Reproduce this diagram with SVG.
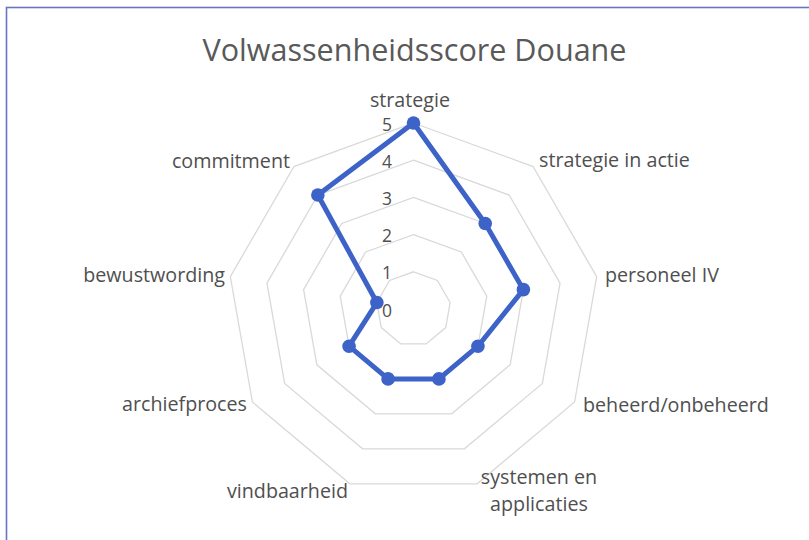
<svg xmlns="http://www.w3.org/2000/svg" width="809" height="540" viewBox="0 0 809 540">
  <style>
    .ring { fill: none; stroke: #d9d9d9; stroke-width: 1.3; }
    .title { font-family: "Open Sans", "Liberation Sans", sans-serif; font-size: 30.4px; font-weight: 400; fill: #595959; }
    .cat { font-family: "Open Sans", "Liberation Sans", sans-serif; font-size: 19.7px; fill: #4f4f4f; }
    .tick { font-family: "Open Sans", "Liberation Sans", sans-serif; font-size: 17.5px; fill: #4f4f4f; text-anchor: end; }
    .series { fill: none; stroke: #3d63c8; stroke-width: 5; stroke-linejoin: round; }
    .dot { fill: #3d63c8; }
  </style>
  <rect x="0" y="0" width="809" height="540" fill="#ffffff"/>
  <rect id="frame" x="6.5" y="7.5" width="812" height="545" fill="none" stroke="#6b74c2" stroke-width="1.6"/>

  <g id="title">
    <text class="title" x="414.5" y="61" text-anchor="middle" textLength="424" lengthAdjust="spacingAndGlyphs">Volwassenheidsscore Douane</text>
  </g>

  <g id="grid">
    <polygon class="ring" points="413.5,271.8 437.41,280.5 450.13,302.54 445.72,327.6 426.22,343.96 400.78,343.96 381.28,327.6 376.87,302.54 389.59,280.5"/>
    <polygon class="ring" points="413.5,234.6 461.32,252.01 486.77,296.08 477.93,346.2 438.94,378.91 388.06,378.91 349.07,346.2 340.23,296.08 365.68,252.01"/>
    <polygon class="ring" points="413.5,197.4 485.24,223.51 523.4,289.63 510.15,364.8 451.67,413.87 375.33,413.87 316.85,364.8 303.6,289.63 341.76,223.51"/>
    <polygon class="ring" points="413.5,160.2 509.15,195.02 560.04,283.17 542.36,383.4 464.39,448.83 362.61,448.83 284.64,383.4 266.96,283.17 317.85,195.02"/>
    <polygon class="ring" points="413.5,123 533.06,166.52 596.67,276.71 574.58,402 477.11,483.78 349.89,483.78 252.42,402 230.33,276.71 293.94,166.52"/>
  </g>

  <g id="series-douane">
    <polygon class="series" points="413.5,123 485.24,223.51 523.4,289.63 477.93,346.2 438.94,378.91 388.06,378.91 349.07,346.2 376.87,302.54 317.85,195.02"/>
    <circle class="dot" cx="413.5" cy="123" r="6.8"/>
    <circle class="dot" cx="485.24" cy="223.51" r="6.8"/>
    <circle class="dot" cx="523.4" cy="289.63" r="6.8"/>
    <circle class="dot" cx="477.93" cy="346.2" r="6.8"/>
    <circle class="dot" cx="438.94" cy="378.91" r="6.8"/>
    <circle class="dot" cx="388.06" cy="378.91" r="6.8"/>
    <circle class="dot" cx="349.07" cy="346.2" r="6.8"/>
    <circle class="dot" cx="376.87" cy="302.54" r="6.8"/>
    <circle class="dot" cx="317.85" cy="195.02" r="6.8"/>
  </g>

  <g id="axis-ticks">
    <text class="tick" x="392" y="131">5</text>
    <text class="tick" x="392" y="168">4</text>
    <text class="tick" x="392" y="205">3</text>
    <text class="tick" x="392" y="242">2</text>
    <text class="tick" x="392" y="279">1</text>
    <text class="tick" x="392" y="317">0</text>
  </g>

  <g id="label-strategie"><text class="cat" x="410" y="106.5" text-anchor="middle">strategie</text></g>
  <g id="label-strategie-in-actie"><text class="cat" x="539" y="167" text-anchor="start">strategie in actie</text></g>
  <g id="label-personeel-iv"><text class="cat" x="605" y="282" text-anchor="start">personeel IV</text></g>
  <g id="label-beheerd"><text class="cat" x="583" y="412" text-anchor="start">beheerd/onbeheerd</text></g>
  <g id="label-systemen">
    <text class="cat" x="539" y="483.5" text-anchor="middle">systemen en</text>
    <text class="cat" x="539" y="510.5" text-anchor="middle">applicaties</text>
  </g>
  <g id="label-vindbaarheid"><text class="cat" x="348" y="498" text-anchor="end">vindbaarheid</text></g>
  <g id="label-archiefproces"><text class="cat" x="247" y="411" text-anchor="end">archiefproces</text></g>
  <g id="label-bewustwording"><text class="cat" x="225" y="282" text-anchor="end">bewustwording</text></g>
  <g id="label-commitment"><text class="cat" x="290" y="168" text-anchor="end">commitment</text></g>
</svg>
